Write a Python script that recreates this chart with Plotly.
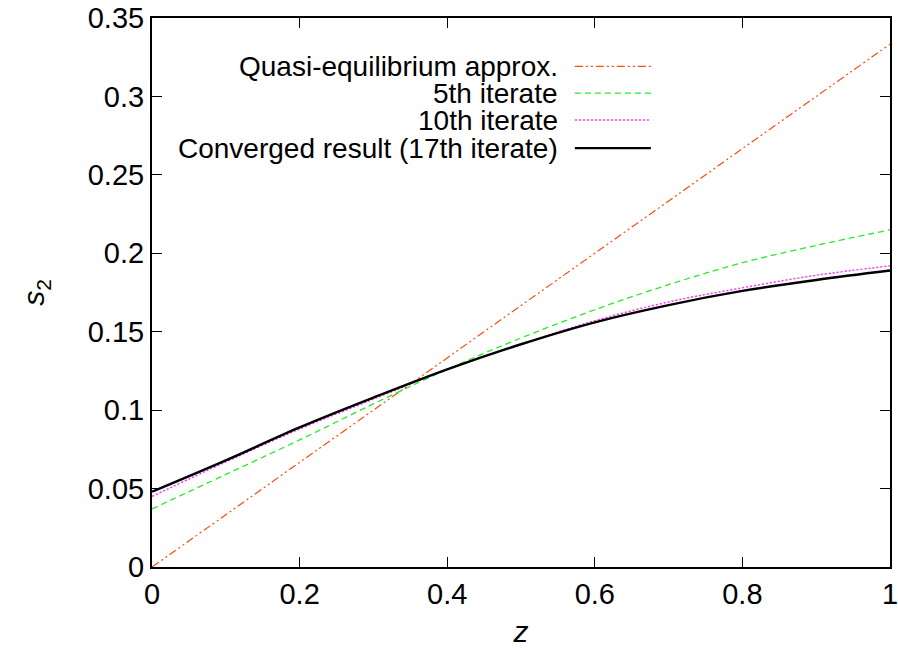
import plotly.graph_objects as go

z = [0.0, 0.1, 0.2, 0.3, 0.4, 0.5, 0.6, 0.7, 0.8, 0.9, 1.0]
quasi = [0.0, 0.0333, 0.0667, 0.1, 0.1333, 0.1667, 0.2, 0.2333, 0.2667, 0.3, 0.3333]
iter5 = [0.037, 0.059, 0.081, 0.104, 0.126, 0.146, 0.164, 0.180, 0.194, 0.205, 0.215]
iter10 = [0.045, 0.067, 0.088, 0.107, 0.126, 0.142, 0.157, 0.169, 0.178, 0.186, 0.192]
converged = [0.048, 0.068, 0.089, 0.108, 0.126, 0.142, 0.156, 0.167, 0.176, 0.183, 0.189]

names = ["Quasi-equilibrium approx.", "5th iterate", "10th iterate",
         "Converged result (17th iterate)"]
series = [quasi, iter5, iter10, converged]
colors = ["#ff4a10", "#22ee22", "#ff33ff", "#000000"]
dashes = ["8px,3px,2px,3px,2px,3px", "6px,4px", "2px,2px", "solid"]
widths = [1.2, 1.3, 1.5, 2.4]

fig = go.Figure()
for n, s, c, d, w in zip(names, series, colors, dashes, widths):
    fig.add_trace(go.Scatter(x=z, y=s, mode="lines", name=n, line_shape="spline",
                             line=dict(color=c, dash=d, width=w), showlegend=False))

# manual gnuplot-style legend
row_y = [0.912, 0.863, 0.814, 0.763]
for n, c, d, w, yy in zip(names, colors, dashes, widths, row_y):
    fig.add_annotation(x=0.551, y=yy, xref="paper", yref="paper", text=n,
                       showarrow=False, xanchor="right", yanchor="middle",
                       borderpad=0, font=dict(size=28, color="black"))
    fig.add_shape(type="line", xref="paper", yref="paper", x0=0.573, x1=0.676,
                  y0=yy, y1=yy, line=dict(color=c, dash=d, width=w))

axis_common = dict(showline=True, linecolor="black", linewidth=2, mirror="ticks",
                   ticks="inside", ticklen=10, tickwidth=1, tickcolor="black",
                   showgrid=False, zeroline=False, automargin=False,
                   ticklabeloverflow="allow",
                   tickfont=dict(size=29, color="black"))

fig.update_xaxes(range=[0, 1], tickvals=[0, 0.2, 0.4, 0.6, 0.8, 1],
                 ticktext=["0", "0.2", "0.4", "0.6", "0.8", "1"],
                 title=dict(text="<i>z</i>", font=dict(size=30, color="black"), standoff=16),
                 **axis_common)
fig.update_yaxes(range=[0, 0.35], tickvals=[0, 0.05, 0.1, 0.15, 0.2, 0.25, 0.3, 0.35],
                 ticktext=["0", "0.05", "0.1", "0.15", "0.2", "0.25", "0.3", "0.35"],
                 title=dict(text="<i>s</i><sub>2</sub>", font=dict(size=30, color="black"), standoff=34),
                 **axis_common)

fig.update_layout(width=898, height=648, margin=dict(l=152, r=8, t=18, b=81),
                  paper_bgcolor="white", plot_bgcolor="white",
                  font=dict(family="Liberation Sans, Arial, sans-serif", color="black"))

fig.write_html("out.html", config={"displayModeBar": False},
               post_script="document.body.style.margin='0';")
